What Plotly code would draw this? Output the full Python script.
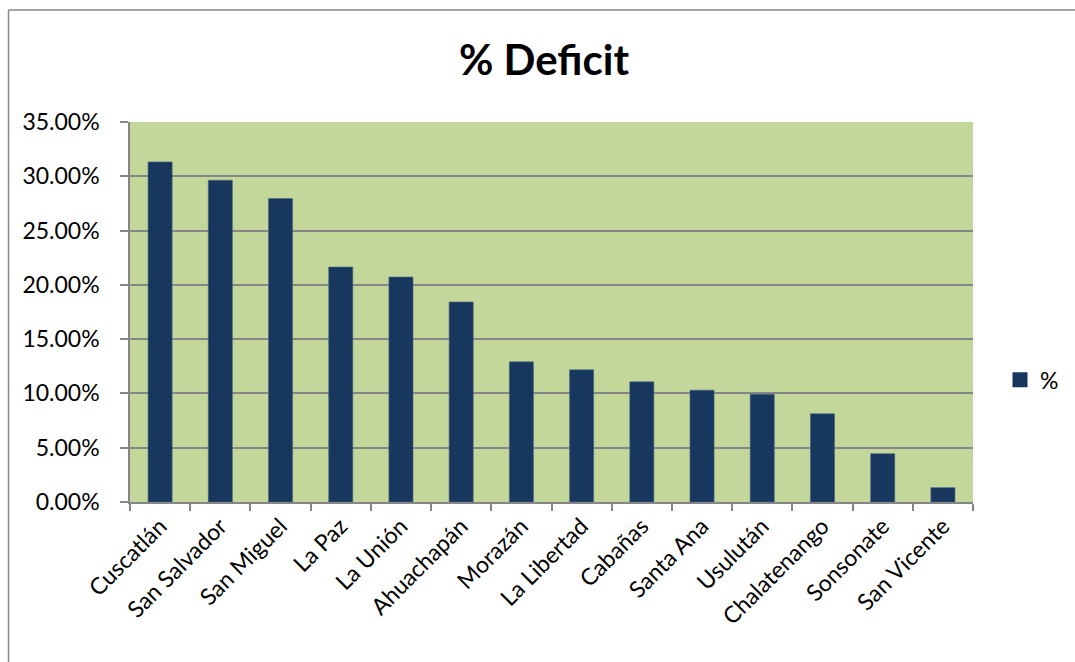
import plotly.graph_objects as go

categories = ["Cuscatlán", "San Salvador", "San Miguel", "La Paz", "La Unión", "Ahuachapán",
              "Morazán", "La Libertad", "Cabañas", "Santa Ana", "Usulután", "Chalatenango",
              "Sonsonate", "San Vicente"]
deficit = [0.3132, 0.2964, 0.2795, 0.2164, 0.2072, 0.1842, 0.1291, 0.1217,
           0.1107, 0.1030, 0.0993, 0.0813, 0.0445, 0.0132]
series_name = "%"
title_text = "% Deficit"

W, H = 1075, 662
# target pixel coordinates of the plot area
PL, PR, PT, PB = 130, 973, 121.7, 502.3
L, R, T, B = PL, W - PR, PT, H - PB
pw, ph = PR - PL, PB - PT

def px_x(x):
    return (x - PL) / pw

def px_y(y):
    return (PB - y) / ph

FONT = "Lato, 'Open Sans', sans-serif"
GRID = "#868686"
BAR = "#17375E"

fig = go.Figure()
fig.add_trace(go.Bar(
    x=categories, y=deficit, name=series_name,
    marker=dict(color=BAR, line=dict(color="#4A6584", width=0.6)),
    showlegend=False,
))
# legend entry (square swatch like the reference)
fig.add_trace(go.Scatter(
    x=[None], y=[None], mode="markers", name=series_name,
    marker=dict(symbol="square", size=15, color=BAR), showlegend=True,
))

fig.update_layout(
    width=W, height=H,
    margin=dict(l=L, r=R, t=T, b=B, autoexpand=False),
    paper_bgcolor="white",
    plot_bgcolor="#C4D79B",
    bargap=0.6,
    font=dict(family=FONT, size=23, color="black"),
    title=dict(text="<b>" + title_text + "</b>", x=px_x(544), xref="paper", xanchor="center",
               y=1 - 60 / H, yanchor="middle", yref="container",
               font=dict(family=FONT, size=42, color="black")),
    legend=dict(x=px_x(1000), y=px_y(380), xanchor="left", yanchor="middle",
                font=dict(family=FONT, size=23), bgcolor="rgba(0,0,0,0)",
                itemwidth=30),
    xaxis=dict(
        type="category", tickangle=-45, showgrid=False,
        showline=True, linecolor=GRID, linewidth=1.5,
        ticks="outside", ticklen=7, tickwidth=1.5, tickcolor=GRID,
        tickson="boundaries", tickfont=dict(family=FONT, size=23),
        range=[-0.5, len(categories) - 0.5], mirror=False,
    ),
    yaxis=dict(
        range=[0, 0.35], dtick=0.05, tick0=0, tickformat=".2%",
        showgrid=True, gridcolor=GRID, gridwidth=1.5,
        showline=True, linecolor=GRID, linewidth=1.5,
        ticks="outside", ticklen=8, tickwidth=1.5, tickcolor=GRID,
        ticklabelstandoff=16,
        tickfont=dict(family=FONT, size=23), zeroline=False,
    ),
    shapes=[
        dict(type="line", xref="paper", yref="paper",
             x0=px_x(8.5), x1=px_x(1080), y0=px_y(9.5), y1=px_y(9.5),
             line=dict(color=GRID, width=1.5), layer="below"),
        dict(type="line", xref="paper", yref="paper",
             x0=px_x(8.5), x1=px_x(8.5), y0=px_y(9.5), y1=px_y(670),
             line=dict(color=GRID, width=1.5), layer="below"),
    ],
)

fig.write_html(
    "out.html",
    config={"displayModeBar": False},
    post_script="document.body.style.margin='0';document.body.style.overflow='hidden';",
)
